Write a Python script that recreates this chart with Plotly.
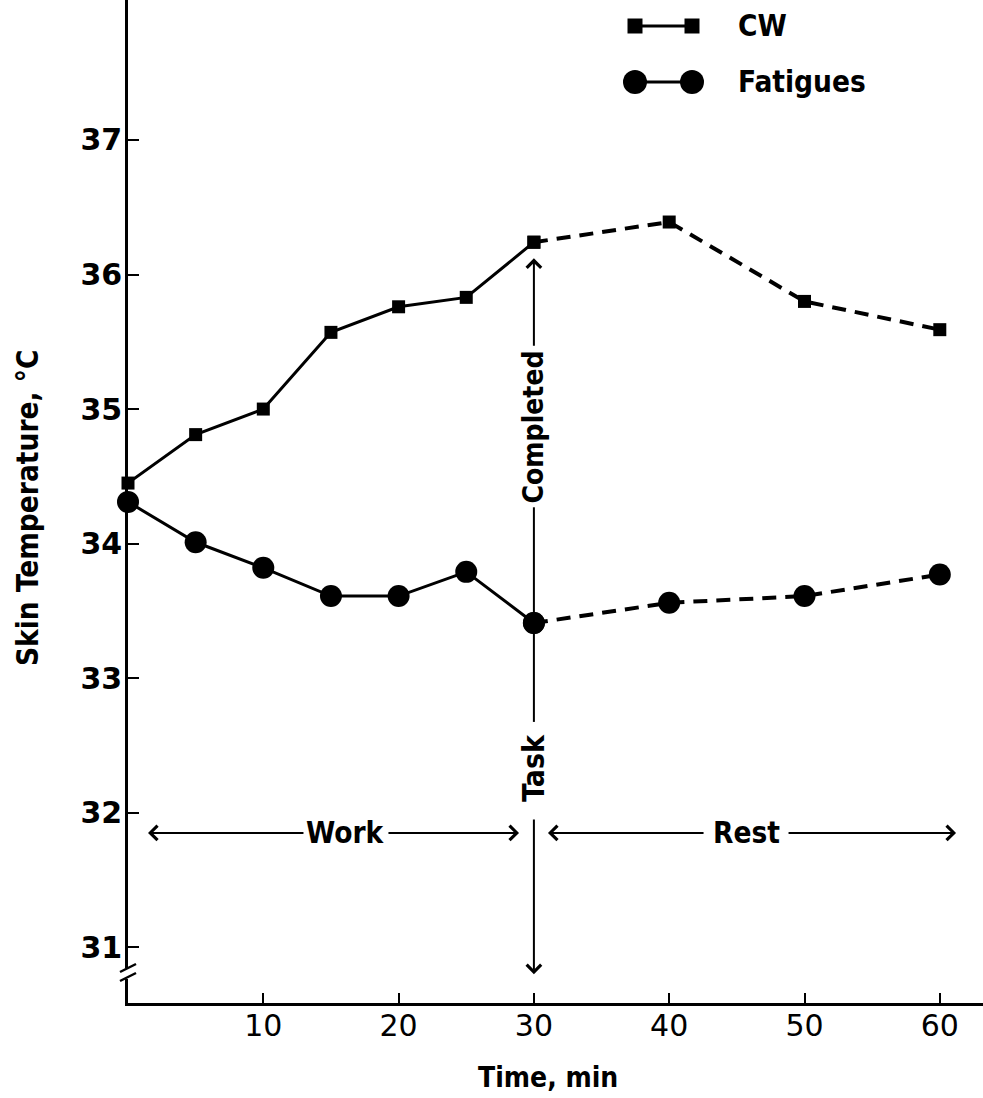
import plotly.graph_objects as go

# Skin temperature during work and rest, chemical-protective (CW) vs. fatigue uniform
time_min = [0, 5, 10, 15, 20, 25, 30, 40, 50, 60]
cw_temp = [34.45, 34.81, 35.00, 35.57, 35.76, 35.83, 36.24, 36.39, 35.80, 35.59]
fatigues_temp = [34.31, 34.01, 33.82, 33.61, 33.61, 33.79, 33.41, 33.56, 33.61, 33.77]
task_end_min = 30
x_tick_vals = [10, 20, 30, 40, 50, 60]
y_tick_vals = [31, 32, 33, 34, 35, 36, 37]

W, H = 983, 1098
LEFT_PX, BOTTOM_PX = 128, 95
PX_PER_MIN = 13.53
X_RANGE = [0, (W - LEFT_PX) / PX_PER_MIN]
Y_RANGE = [30.586, 38.04]

BOLD = "DejaVu Sans Condensed, Liberation Sans Narrow, DejaVu Sans"
PLAIN = "DejaVu Sans"


def px_x(px):
    return px / W


def px_y(py):
    return 1 - py / H


def bold_font(size):
    return dict(family=BOLD, size=size, color="black", weight="bold")


split = time_min.index(task_end_min)

fig = go.Figure()
series = [
    ("CW", cw_temp, "square", 13),
    ("Fatigues", fatigues_temp, "circle", 22),
]
for name, temps, symbol, size in series:
    # work phase: solid line
    fig.add_trace(go.Scatter(
        x=time_min[:split + 1], y=temps[:split + 1], name=name,
        mode="lines+markers", cliponaxis=False, showlegend=False,
        line=dict(color="black", width=3),
        marker=dict(symbol=symbol, size=size, color="black"),
    ))
    # rest phase: dashed line
    fig.add_trace(go.Scatter(
        x=time_min[split:], y=temps[split:], name=name,
        mode="lines+markers", cliponaxis=False, showlegend=False,
        line=dict(color="black", width=4, dash="14px,9px"),
        marker=dict(symbol=symbol, size=size, color="black"),
    ))

shapes = []
annotations = []


def arrow(x_head, y_head, x_tail, y_tail):
    annotations.append(dict(
        x=x_head, y=y_head, ax=x_tail, ay=y_tail,
        xref="x", yref="y", axref="x", ayref="y",
        text="", showarrow=True, arrowhead=4, arrowsize=1.4,
        arrowwidth=2, arrowcolor="black", standoff=0, startstandoff=0,
    ))


def label(x, y, text, size, angle=0, xref="x", yref="y", xanchor="center"):
    annotations.append(dict(x=x, y=y, xref=xref, yref=yref, text=text,
                            textangle=angle, showarrow=False,
                            xanchor=xanchor, yanchor="middle",
                            font=bold_font(size)))


# "Task Completed" marker at the end of work
arrow(task_end_min, 36.12, task_end_min, 35.46)
shapes.append(dict(type="line", xref="x", yref="y", layer="below",
                   x0=task_end_min, x1=task_end_min, y0=34.27, y1=32.675,
                   line=dict(color="black", width=2)))
arrow(task_end_min, 30.80, task_end_min, 31.96)
label(task_end_min, 34.87, "Completed", 28, angle=-90)
label(task_end_min, 32.333, "Task", 30, angle=-90)

# Work / Rest phase spans
phase_y = 31.85
arrow(1.48, phase_y, 13.08, phase_y)
arrow(28.9, phase_y, 19.14, phase_y)
arrow(31.04, phase_y, 42.65, phase_y)
arrow(61.2, phase_y, 48.71, phase_y)
label(16.04, phase_y, "Work", 29.5)
label(45.68, phase_y, "Rest", 29.5)

# axis titles
label(px_x(548), px_y(1077), "Time, min", 28, xref="paper", yref="paper")
label(px_x(27.5), px_y(507.5), "Skin Temperature, °C", 29.5, angle=-90,
      xref="paper", yref="paper")

# legend
legend_rows = [("CW", 26, "rect", 15), ("Fatigues", 82, "circle", 24)]
for text, row_py, kind, glyph in legend_rows:
    shapes.append(dict(type="line", xref="paper", yref="paper",
                       x0=px_x(635), x1=px_x(692), y0=px_y(row_py), y1=px_y(row_py),
                       line=dict(color="black", width=3)))
    for cx in (635, 692):
        shapes.append(dict(type=kind, xref="paper", yref="paper",
                           xsizemode="pixel", ysizemode="pixel",
                           xanchor=px_x(cx), yanchor=px_y(row_py),
                           x0=-glyph / 2, x1=glyph / 2, y0=-glyph / 2, y1=glyph / 2,
                           fillcolor="black", line=dict(color="black", width=0)))
    label(px_x(736), px_y(row_py), text, 29.5, xref="paper", yref="paper",
          xanchor="left")

# break mark on the temperature axis
shapes.append(dict(type="rect", xref="paper", yref="paper", layer="above",
                   x0=px_x(122), x1=px_x(135), y0=px_y(979), y1=px_y(968),
                   fillcolor="white", line=dict(width=0)))
for off in (0, 9):
    shapes.append(dict(type="line", xref="paper", yref="paper", layer="above",
                       x0=px_x(120), x1=px_x(136), y0=px_y(972 + off), y1=px_y(964 + off),
                       line=dict(color="black", width=2.5)))

fig.update_layout(
    width=W, height=H,
    margin=dict(l=0, r=0, t=0, b=0, pad=0),
    paper_bgcolor="white", plot_bgcolor="white",
    shapes=shapes, annotations=annotations,
    xaxis=dict(
        domain=[LEFT_PX / W, 1], range=X_RANGE, automargin=False,
        showgrid=False, zeroline=False,
        showline=True, linecolor="black", linewidth=3,
        tickmode="array", tickvals=x_tick_vals, ticks="inside",
        ticklen=10, tickwidth=2, tickcolor="black", ticklabelstandoff=-6,
        tickfont=dict(family=PLAIN, size=30, color="black"),
    ),
    yaxis=dict(
        domain=[BOTTOM_PX / H, 1], range=Y_RANGE, automargin=False,
        showgrid=False, zeroline=False,
        showline=True, linecolor="black", linewidth=2.5,
        tickmode="array", tickvals=y_tick_vals, ticks="inside",
        ticklen=11, tickwidth=2, tickcolor="black", ticklabelstandoff=-3,
        tickfont=dict(family=PLAIN, size=30, color="black", weight="bold"),
    ),
)

fig.write_html("out.html")
